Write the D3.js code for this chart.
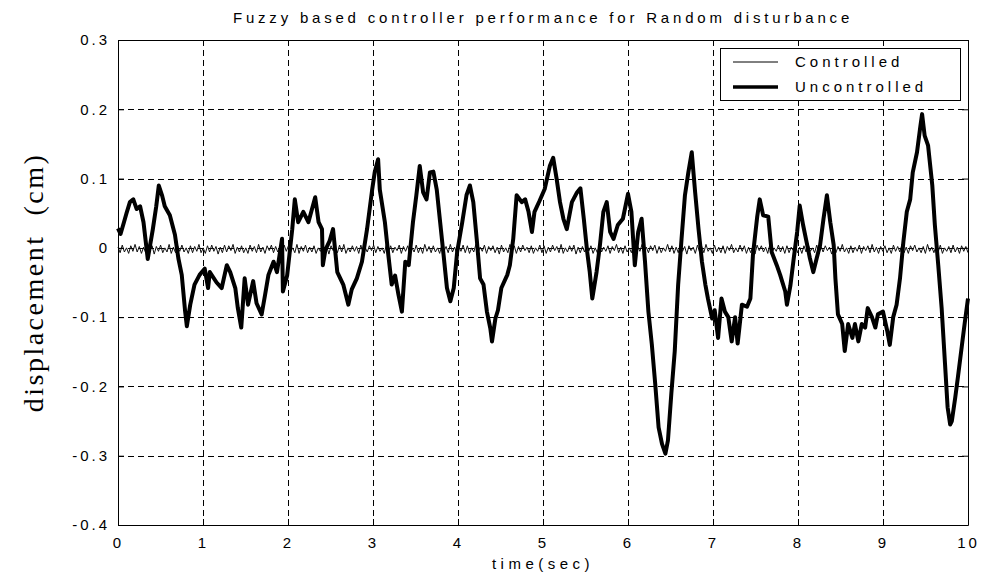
<!DOCTYPE html>
<html><head><meta charset="utf-8">
<script src="https://cdn.jsdelivr.net/npm/d3@7"></script>
<style>
body{margin:0;background:#fff;}
svg{display:block;}
text{fill:#000;}
</style></head>
<body>
<svg id="c" width="981" height="581"></svg>
<script>
const titleText = "Fuzzy based controller performance for Random disturbance";
const xLabel = "time(sec)";
const yLabel = "displacement  (cm)";
const xTicks = [0,1,2,3,4,5,6,7,8,9,10];
const yTicks = [-0.4,-0.3,-0.2,-0.1,0,0.1,0.2,0.3];
const seriesNames = ["Controlled","Uncontrolled"];

// Uncontrolled response: time (s) and displacement (cm)
const tUnc = [0,0.03,0.07,0.1,0.14,0.18,0.22,0.26,0.3,0.35,0.41,0.45,0.48,0.52,0.55,0.61,0.67,0.71,0.75,0.79,0.81,0.85,0.9,0.96,1.02,1.06,1.08,1.16,1.22,1.28,1.32,1.38,1.41,1.45,1.49,1.53,1.59,1.63,1.69,1.73,1.77,1.83,1.87,1.93,1.94,1.99,2.05,2.08,2.12,2.18,2.24,2.26,2.32,2.36,2.4,2.41,2.44,2.49,2.53,2.58,2.65,2.71,2.75,2.81,2.87,2.93,2.99,3.02,3.06,3.08,3.14,3.18,3.22,3.26,3.3,3.34,3.38,3.42,3.47,3.51,3.55,3.59,3.63,3.67,3.71,3.75,3.79,3.83,3.87,3.91,3.95,3.99,4.05,4.1,4.14,4.18,4.22,4.26,4.3,4.34,4.38,4.4,4.44,4.47,4.51,4.58,4.61,4.65,4.69,4.75,4.79,4.83,4.87,4.9,4.96,5.02,5.08,5.12,5.16,5.2,5.24,5.28,5.34,5.4,5.44,5.48,5.52,5.55,5.58,5.63,5.67,5.71,5.75,5.79,5.83,5.88,5.94,6.0,6.04,6.08,6.12,6.16,6.2,6.24,6.28,6.32,6.36,6.4,6.44,6.47,6.51,6.55,6.59,6.63,6.67,6.71,6.75,6.79,6.83,6.87,6.91,6.94,6.99,7.02,7.06,7.1,7.14,7.18,7.22,7.26,7.29,7.34,7.4,7.44,7.47,7.52,7.55,7.59,7.65,7.69,7.75,7.79,7.85,7.87,7.91,7.95,7.99,8.02,8.06,8.1,8.14,8.18,8.22,8.26,8.3,8.34,8.38,8.42,8.44,8.47,8.52,8.55,8.59,8.64,8.67,8.71,8.75,8.79,8.82,8.87,8.91,8.94,9.0,9.05,9.08,9.12,9.16,9.2,9.24,9.28,9.32,9.35,9.4,9.44,9.46,9.49,9.53,9.58,9.61,9.65,9.69,9.73,9.76,9.79,9.81,9.85,9.88,9.93,9.96,10.0];
const uncontrolled = [0.028,0.02,0.037,0.05,0.066,0.07,0.056,0.06,0.037,-0.016,0.027,0.06,0.09,0.075,0.06,0.047,0.019,-0.015,-0.039,-0.092,-0.113,-0.082,-0.053,-0.039,-0.03,-0.058,-0.035,-0.05,-0.058,-0.025,-0.035,-0.058,-0.087,-0.115,-0.044,-0.082,-0.048,-0.08,-0.096,-0.068,-0.039,-0.02,-0.035,0.013,-0.063,-0.04,0.027,0.07,0.037,0.052,0.037,0.046,0.073,0.037,0.027,-0.025,-0.003,0.01,0.027,-0.035,-0.053,-0.082,-0.06,-0.044,-0.02,0.027,0.084,0.109,0.128,0.084,0.037,-0.01,-0.053,-0.04,-0.068,-0.092,-0.02,-0.025,0.037,0.076,0.118,0.08,0.07,0.109,0.11,0.084,0.037,-0.01,-0.058,-0.077,-0.058,-0.006,0.037,0.076,0.09,0.066,0.013,-0.044,-0.053,-0.092,-0.116,-0.135,-0.102,-0.09,-0.058,-0.039,-0.025,0.013,0.076,0.066,0.07,0.052,0.023,0.052,0.068,0.085,0.118,0.13,0.1,0.066,0.042,0.027,0.066,0.08,0.086,0.042,-0.006,-0.035,-0.073,-0.035,0.004,0.052,0.066,0.023,0.013,0.033,0.042,0.078,0.052,-0.025,0.023,0.042,-0.02,-0.092,-0.139,-0.196,-0.259,-0.283,-0.297,-0.278,-0.21,-0.149,-0.053,0.013,0.076,0.109,0.138,0.08,0.027,-0.02,-0.053,-0.073,-0.102,-0.09,-0.13,-0.073,-0.092,-0.1,-0.135,-0.1,-0.138,-0.082,-0.085,-0.073,-0.01,0.045,0.07,0.047,0.045,-0.006,-0.025,-0.039,-0.063,-0.082,-0.055,-0.015,0.023,0.061,0.033,0.009,-0.015,-0.035,-0.015,0.004,0.042,0.076,0.037,0.004,-0.044,-0.096,-0.11,-0.149,-0.11,-0.13,-0.11,-0.135,-0.11,-0.115,-0.087,-0.1,-0.115,-0.096,-0.092,-0.12,-0.14,-0.1,-0.082,-0.044,0.009,0.052,0.07,0.109,0.138,0.176,0.193,0.162,0.148,0.09,0.033,-0.025,-0.087,-0.168,-0.23,-0.255,-0.25,-0.216,-0.188,-0.139,-0.11,-0.073];

// Controlled response (cm x 1000), sampled evenly over 0..10 s
const controlledMilli = [
3,-5,6,-4,2,-6,5,-3,7,-4,4,-6,3,-5,6,-2,5,-7,4,-3,6,-5,2,-4,7,-6,3,-5,5,-3,6,-4,2,-6,5,-5,4,-3,7,-5,
2,-6,5,-4,6,-3,4,-7,3,-5,6,-4,5,-2,7,-6,3,-4,5,-5,2,-6,6,-3,4,-5,7,-4,3,-6,5,-2,6,-5,4,-4,3,-7,6,-3,
5,-4,2,-5,7,-6,4,-3,6,-5,3,-4,5,-6,2,-3,6,-5,4,-7,5,-2,3,-5,6,-4,7,-6,2,-4,5,-3,4,-6,6,-5,3,-4,5,-2,
6,-5,4,-3,2,-6,7,-4,5,-5,3,-2,6,-6,4,-3,5,-7,2,-4,6,-5,3,-6,7,-3,4,-5,5,-4,2,-6,6,-3,4,-5,7,-4,3,-6,
4,-3,6,-5,5,-6,2,-4,7,-5,3,-3,6,-6,4,-2,5,-5,3,-7,6,-4,2,-5,7,-3,5,-6,4,-4,6,-2,3,-5,5,-6,2,-3,6,-5,
5,-6,3,-4,6,-2,4,-5,7,-6,2,-4,5,-3,6,-7,3,-5,4,-4,7,-3,5,-6,2,-5,6,-4,3,-3,5,-6,4,-2,7,-5,3,-6,5,-4,
2,-5,6,-6,4,-3,7,-4,3,-5,5,-2,6,-6,4,-5,2,-3,7,-4,5,-6,3,-5,6,-3,4,-7,5,-2,3,-6,6,-4,4,-5,7,-3,2,-6,
6,-4,3,-5,5,-6,4,-2,7,-5,2,-4,6,-3,5,-6,3,-5,4,-7,6,-2,5,-4,3,-6,7,-5,2,-3,6,-4,4,-6,5,-5,3,-2,6,-5,
3,-6,5,-4,7,-3,2,-5,6,-6,4,-4,5,-2,3,-7,6,-5,4,-3,7,-4,2,-6,5,-5,3,-3,6,-6,4,-2,5,-5,7,-4,3,-6,4,-3,
5,-5,2,-6,6,-3,4,-4,7,-5,3,-6,5,-2,6,-4,2,-5,4,-6,7,-3,3,-5,5,-4,6,-6,2,-3,4,-5,6,-4,3,-6,5,-3,4,-5
];

const SANS = "'Liberation Sans', Arial, Helvetica, sans-serif";
const SERIF = "'Liberation Serif', 'Times New Roman', serif";
const svg = d3.select("#c");
const L = 118, R = 968, T = 40, B = 525;
const x = d3.scaleLinear().domain([0,10]).range([L,R]);
const y = d3.scaleLinear().domain([-0.4,0.3]).range([B,T]);

// grid
const grid = svg.append("g").attr("stroke","#000").attr("stroke-width",1).attr("stroke-dasharray","6,4").attr("shape-rendering","crispEdges");
xTicks.slice(1,-1).forEach(t=>{
  grid.append("line").attr("x1",Math.round(x(t))+0.5).attr("x2",Math.round(x(t))+0.5).attr("y1",T).attr("y2",B);
});
yTicks.slice(1,-1).forEach(t=>{
  grid.append("line").attr("y1",Math.round(y(t))+0.5).attr("y2",Math.round(y(t))+0.5).attr("x1",L).attr("x2",R);
});

// data lines
const nC = controlledMilli.length;
const tC = d3.range(nC).map(i=>i*10/(nC-1));
const lineC = d3.line().x((d,i)=>x(tC[i])).y(d=>y(d/1000 - 0.002));
svg.append("path").datum(controlledMilli).attr("d",lineC).attr("fill","none").attr("stroke","#111").attr("stroke-width",1);

const lineU = d3.line().x((d,i)=>x(tUnc[i])).y(d=>y(d));
svg.append("path").datum(uncontrolled).attr("d",lineU).attr("fill","none").attr("stroke","#000").attr("stroke-width",4).attr("stroke-linejoin","round");

// axes
const fmtY = d=> d===0 ? "0" : d3.format(".1f")(d).replace("\u2212","-");
const styleAxis = g=>{
  g.select(".domain").attr("stroke","#000");
  g.selectAll(".tick line").attr("stroke","#000");
  g.selectAll("text").style("font-size","15px").style("font-family",SANS).style("letter-spacing","3px").style("fill","#000");
};
svg.append("g").attr("transform",`translate(0,${B})`)
  .call(d3.axisBottom(x).tickValues(xTicks).tickFormat(d3.format("d")).tickSizeInner(-6).tickSizeOuter(0).tickPadding(12))
  .call(styleAxis);
svg.append("g").attr("transform",`translate(0,${T})`)
  .call(d3.axisTop(x).tickValues(xTicks).tickFormat("").tickSizeInner(-6).tickSizeOuter(0))
  .call(styleAxis);
svg.append("g").attr("transform",`translate(${L},0)`)
  .call(d3.axisLeft(y).tickValues(yTicks).tickFormat(fmtY).tickSizeInner(-6).tickSizeOuter(0).tickPadding(8))
  .call(styleAxis);
svg.append("g").attr("transform",`translate(${R},0)`)
  .call(d3.axisRight(y).tickValues(yTicks).tickFormat("").tickSizeInner(-6).tickSizeOuter(0))
  .call(styleAxis);

// title & labels
svg.append("text").attr("x",(L+R)/2).attr("y",23).attr("text-anchor","middle")
  .style("font-family",SANS).style("font-size","15px").style("letter-spacing","3.8px").text(titleText);
svg.append("text").attr("x",(L+R)/2).attr("y",569).attr("text-anchor","middle")
  .style("font-family",SANS).style("font-size","15px").style("letter-spacing","4.5px").text(xLabel);
svg.append("text").attr("transform",`translate(43,${(T+B)/2}) rotate(-90)`).attr("text-anchor","middle")
  .style("font-family",SERIF).style("font-size","28px").style("letter-spacing","2.5px").style("white-space","pre").text(yLabel);

// legend
const lg = svg.append("g");
lg.append("rect").attr("x",720.5).attr("y",48.5).attr("width",240).attr("height",52).attr("fill","#fff").attr("stroke","#000").attr("stroke-width",1);
const legendWidths = [1,3.5];
seriesNames.forEach((n,i)=>{
  const yy = 62 + i*25;
  lg.append("line").attr("x1",733).attr("x2",778).attr("y1",yy).attr("y2",yy).attr("stroke","#000").attr("stroke-width",legendWidths[i]);
  lg.append("text").attr("x",795).attr("y",yy+5).style("font-family",SANS).style("font-size","15px").style("letter-spacing","4px").text(n);
});
</script>
</body></html>
